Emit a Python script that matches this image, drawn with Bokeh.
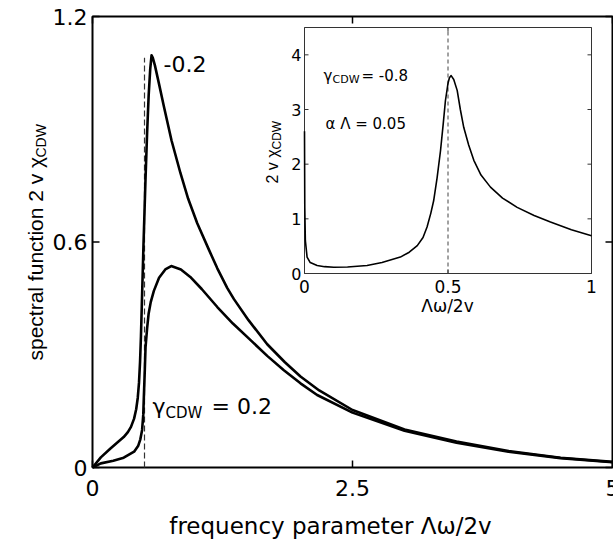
import math
from bokeh.plotting import figure
from bokeh.models import Range1d, Label
from bokeh.core.properties import value
from bokeh.embed import file_html
from bokeh.resources import INLINE

# ---------------- data ----------------
# main panel: gamma_CDW = -0.2 curve
neg_x = [0.0, 0.08, 0.17, 0.25, 0.30, 0.34, 0.37, 0.40, 0.42, 0.435, 0.447, 0.457, 0.466,
         0.474, 0.482, 0.49, 0.50, 0.51, 0.525, 0.54, 0.555, 0.568, 0.58, 0.60, 0.64, 0.686,
         0.76, 0.846, 0.92, 1.007, 1.12, 1.20, 1.295, 1.36, 1.50, 1.68, 1.85, 2.0, 2.18, 2.5,
         3.0, 3.5, 4.0, 4.5, 5.0]
neg_y = [0.0, 0.027, 0.05, 0.069, 0.081, 0.094, 0.108, 0.13, 0.155, 0.185, 0.225, 0.28, 0.35,
         0.43, 0.51, 0.59, 0.68, 0.77, 0.89, 0.99, 1.06, 1.097, 1.09, 1.07, 1.02, 0.961,
         0.87, 0.783, 0.715, 0.65, 0.579, 0.53, 0.478, 0.448, 0.392, 0.328, 0.28, 0.242,
         0.205, 0.153, 0.101, 0.069, 0.044, 0.026, 0.015]
# main panel: gamma_CDW = 0.2 curve
pos_x = [0.0, 0.08, 0.2, 0.3, 0.4, 0.44, 0.46, 0.477, 0.488, 0.494, 0.503, 0.51, 0.525, 0.54,
         0.56, 0.59, 0.64, 0.70, 0.757, 0.85, 0.94, 1.05, 1.2, 1.35, 1.52, 1.68, 1.84, 2.0,
         2.16, 2.5, 3.0, 3.5, 4.0, 4.5, 5.0]
pos_y = [0.0, 0.011, 0.018, 0.026, 0.042, 0.058, 0.075, 0.10, 0.14, 0.19, 0.26, 0.32, 0.37,
         0.41, 0.44, 0.47, 0.505, 0.527, 0.536, 0.527, 0.507, 0.475, 0.427, 0.383, 0.339,
         0.297, 0.259, 0.224, 0.193, 0.146, 0.098, 0.066, 0.042, 0.025, 0.014]
# inset: gamma_CDW = -0.8, alpha*Lambda = 0.05
inset_x = [0.0, 0.001, 0.003, 0.009, 0.02, 0.044, 0.07, 0.102, 0.15, 0.218, 0.27, 0.334, 0.365,
           0.393, 0.413, 0.427, 0.44, 0.45, 0.462, 0.474, 0.483, 0.491, 0.50, 0.505, 0.511,
           0.52, 0.532, 0.543, 0.555, 0.572, 0.59, 0.615, 0.648, 0.69, 0.741, 0.80, 0.857,
           0.93, 1.0]
inset_y = [2.6, 1.2, 0.6, 0.3, 0.2, 0.146, 0.125, 0.115, 0.12, 0.146, 0.2, 0.3, 0.39, 0.51,
           0.66, 0.85, 1.1, 1.33, 1.75, 2.25, 2.72, 3.16, 3.48, 3.58, 3.62, 3.55, 3.35, 3.0,
           2.67, 2.35, 2.07, 1.8, 1.58, 1.38, 1.21, 1.06, 0.94, 0.8, 0.69]

main_marker_x = 0.5
main_marker_top = 1.09
inset_marker_x = 0.5

x_ticks = [0.0, 2.5, 5.0]
x_tick_labels = ["0", "2.5", "5"]
y_ticks = [0.0, 0.6, 1.2]
y_tick_labels = ["0", "0.6", "1.2"]
inset_x_ticks = [0.0, 0.5, 1.0]
inset_x_tick_labels = ["0", "0.5", "1"]
inset_y_ticks = [0.0, 1.0, 2.0, 3.0, 4.0]
inset_y_tick_labels = ["0", "1", "2", "3", "4"]

X0, X1, Y0, Y1 = 0.0, 5.0, 0.0, 1.2
IX0, IX1, IY0, IY1 = 0.0, 1.0, 0.0, 4.5

# ---------------- layout (pixel positions in the picture) ----------------
FL, FR, FT, FB = 92, 612, 16, 467        # main axes box
IL, IR, IT, IB = 304, 591, 27, 273       # inset axes box
W, H = 613, 540

def mx(px):
    return X0 + (px - FL) / (FR - FL) * (X1 - X0)

def my(py):
    return Y0 + (FB - py) / (FB - FT) * (Y1 - Y0)

def ix(px):
    return IX0 + (px - IL) / (IR - IL) * (IX1 - IX0)

def iy(py):
    return IY0 + (IB - py) / (IB - IT) * (IY1 - IY0)

p = figure(width=W, height=H, output_backend="svg", toolbar_location=None,
           x_range=Range1d(mx(0), mx(W)), y_range=Range1d(my(H), my(0)),
           x_axis_location=None, y_axis_location=None, min_border=0)
p.extra_x_ranges = {"ix": Range1d(ix(0), ix(W))}
p.extra_y_ranges = {"iy": Range1d(iy(H), iy(0))}
p.xgrid.visible = False
p.ygrid.visible = False
p.outline_line_color = None
p.background_fill_color = "white"
p.border_fill_color = "white"

# ---------------- main axes box, ticks and tick labels ----------------
TICK = 7
nxt, nyt = len(x_ticks), len(y_ticks)
p.segment(x0=x_ticks, y0=[Y0] * nxt, x1=x_ticks, y1=[my(FB - TICK)] * nxt,
          line_color="black", line_width=1.5)
p.segment(x0=x_ticks, y0=[Y1] * nxt, x1=x_ticks, y1=[my(FT + TICK)] * nxt,
          line_color="black", line_width=1.5)
p.segment(x0=[X0] * nyt, y0=y_ticks, x1=[mx(FL + TICK)] * nyt, y1=y_ticks,
          line_color="black", line_width=1.5)
p.segment(x0=[X1] * nyt, y0=y_ticks, x1=[mx(FR - TICK)] * nyt, y1=y_ticks,
          line_color="black", line_width=1.5)
p.quad(left=[X0], right=[X1], bottom=[Y0], top=[Y1], fill_color=None,
       line_color="black", line_width=2)
p.text(x=x_ticks, y=[my(FB + 20)] * nxt, text=x_tick_labels,
       text_font=value("DejaVu Sans"), text_font_size="22px", text_align="center",
       text_baseline="middle", text_color="black")
p.text(x=[mx(FL - 5)] * nyt, y=y_ticks, text=y_tick_labels,
       text_font=value("DejaVu Sans"), text_font_size="22px", text_align="right",
       text_baseline="middle", text_color="black")

# dashed marker and curves
p.segment(x0=[main_marker_x], y0=[Y0], x1=[main_marker_x], y1=[main_marker_top],
          line_color="#333333", line_width=1.2, line_dash="6 3")
p.line(neg_x, neg_y, line_color="black", line_width=2.6, line_join="round")
p.line(pos_x, pos_y, line_color="black", line_width=2.6, line_join="round")

# ---------------- inset ----------------
R = dict(x_range_name="ix", y_range_name="iy")
p.quad(left=[IX0], right=[IX1], bottom=[IY0], top=[IY1], fill_color="white",
       line_color="#333333", line_width=1, **R)
p.segment(x0=[inset_marker_x], y0=[IY0], x1=[inset_marker_x], y1=[IY1],
          line_color="#444444", line_width=1, line_dash="4 3", **R)
ITICK = 4
nx, ny = len(inset_x_ticks), len(inset_y_ticks)
p.segment(x0=inset_x_ticks, y0=[IY0] * nx, x1=inset_x_ticks, y1=[iy(IB - ITICK)] * nx,
          line_color="#333333", line_width=1, **R)
p.segment(x0=inset_x_ticks, y0=[IY1] * nx, x1=inset_x_ticks, y1=[iy(IT + ITICK)] * nx,
          line_color="#333333", line_width=1, **R)
p.segment(x0=[IX0] * ny, y0=inset_y_ticks, x1=[ix(IL + ITICK)] * ny, y1=inset_y_ticks,
          line_color="#333333", line_width=1, **R)
p.segment(x0=[IX1] * ny, y0=inset_y_ticks, x1=[ix(IR - ITICK)] * ny, y1=inset_y_ticks,
          line_color="#333333", line_width=1, **R)
p.line(inset_x, inset_y, line_color="black", line_width=1.6, line_join="round", **R)

p.text(x=inset_x_ticks, y=[iy(IB + 13)] * nx, text=inset_x_tick_labels,
       text_font=value("DejaVu Sans"), text_font_size="17px", text_align="center",
       text_baseline="middle", text_color="black", **R)
p.text(x=[ix(IL - 3)] * ny, y=inset_y_ticks, text=inset_y_tick_labels,
       text_font=value("DejaVu Sans"), text_font_size="16px", text_align="right",
       text_baseline="middle", text_color="black", **R)

# ---------------- texts ----------------
def lab(px, py, text, size, font="DejaVu Sans", align="left", baseline="alphabetic", angle=0.0):
    p.add_layout(Label(x=mx(px), y=my(py), text=text, text_font=font,
                       text_font_size=f"{size}px", text_align=align, text_baseline=baseline,
                       text_color="black", angle=angle))

# main axis titles
lab(330, 525, "frequency parameter \u039b\u03c9/2v", 23, align="center", baseline="middle")
lab(35, 360, "spectral function  2 v \u03c7", 21, font="Liberation Sans", baseline="middle",
    angle=math.pi / 2)
lab(40, 157, "CDW", 14, font="Liberation Sans", baseline="middle", angle=math.pi / 2)

# main annotations
lab(163, 63, "-0.2", 22, baseline="middle")
lab(152, 406, "\u03b3", 22)
lab(165, 412, "CDW", 15)
lab(211, 406, "= 0.2", 22)

# inset annotations
lab(323, 75, "\u03b3", 15)
lab(332, 79, "CDW", 11)
lab(361, 75, "= -0.8", 15)
lab(325, 123, "\u03b1 \u039b = 0.05", 15)
lab(447, 305, "\u039b\u03c9/2v", 17, align="center", baseline="middle")
lab(272, 183, "2 v \u03c7", 16, font="Liberation Sans", baseline="middle", angle=math.pi / 2)
lab(276, 149, "CDW", 12, font="Liberation Sans", baseline="middle", angle=math.pi / 2)

open("out.html", "w").write(file_html(p, INLINE))
